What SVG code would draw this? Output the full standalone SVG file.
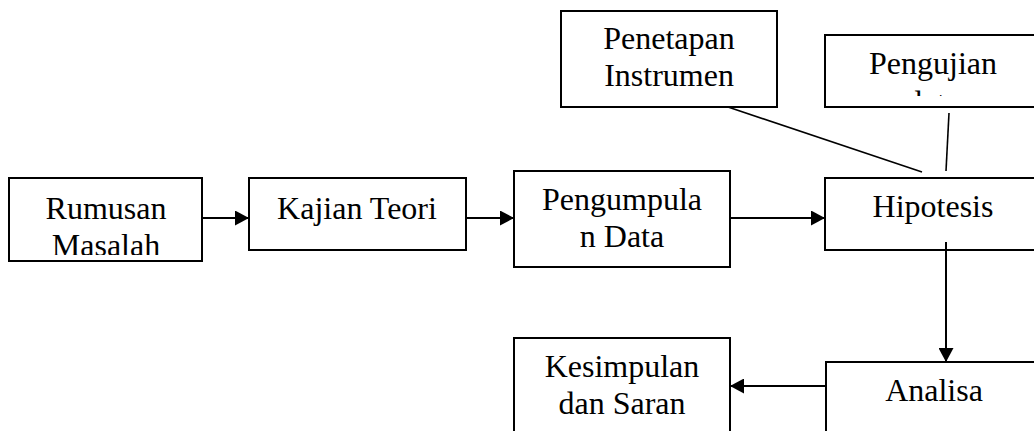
<svg xmlns="http://www.w3.org/2000/svg" width="1034" height="431" viewBox="0 0 1034 431">
<style>
.box{fill:#fff;stroke:#000;stroke-width:2}
.t{font-family:"Liberation Serif","Times New Roman",serif;font-size:32px;fill:#000;text-anchor:middle}
.c{fill:none;stroke:#000;stroke-width:2}
.d{fill:none;stroke:#000;stroke-width:1.6}
</style>
<defs>
<marker id="ah" markerWidth="14" markerHeight="15" refX="14" refY="7.5" orient="auto" markerUnits="userSpaceOnUse">
<path d="M0,0 L14,7.5 L0,15 Z" fill="#000"/>
</marker>
<clipPath id="clipR"><rect x="9" y="178" width="193" height="77"/></clipPath>
<clipPath id="clipP"><rect x="825" y="35" width="216" height="61"/></clipPath>
</defs>
<rect width="1034" height="431" fill="#fff"/>
<g id="rumusan">
<rect class="box" x="9" y="178" width="193" height="83"/>
<g clip-path="url(#clipR)"><text class="t" x="106" y="219">Rumusan</text><text class="t" x="106" y="256">Masalah</text></g>
</g>
<g id="kajian">
<rect class="box" x="249" y="178" width="217" height="72"/>
<text class="t" x="357" y="219">Kajian Teori</text>
</g>
<g id="pengumpulan">
<rect class="box" x="514" y="171" width="216" height="96"/>
<text class="t" x="622" y="210">Pengumpula</text>
<text class="t" x="622" y="247">n Data</text>
</g>
<g id="penetapan">
<rect class="box" x="561" y="11" width="216" height="96"/>
<text class="t" x="669" y="49">Penetapan</text>
<text class="t" x="669" y="86">Instrumen</text>
</g>
<g id="pengujian">
<rect class="box" x="825" y="35" width="216" height="72"/>
<g clip-path="url(#clipP)"><text class="t" x="933" y="74">Pengujian</text><text class="t" x="933" y="113">data</text></g>
</g>
<g id="hipotesis">
<rect class="box" x="825" y="178" width="216" height="72"/>
<text class="t" x="933" y="217">Hipotesis</text>
</g>
<g id="analisa">
<rect class="box" x="826" y="362" width="216" height="80"/>
<text class="t" x="934" y="401">Analisa</text>
</g>
<g id="kesimpulan">
<rect class="box" x="514" y="338" width="216" height="100"/>
<text class="t" x="622" y="377">Kesimpulan</text>
<text class="t" x="622" y="414">dan Saran</text>
</g>
<g id="connectors">
<line class="c" x1="202" y1="218" x2="249" y2="218" marker-end="url(#ah)"/>
<line class="c" x1="466" y1="218" x2="514" y2="218" marker-end="url(#ah)"/>
<line class="c" x1="730" y1="218" x2="825" y2="218" marker-end="url(#ah)"/>
<line class="c" x1="946" y1="242" x2="946" y2="362" marker-end="url(#ah)"/>
<line class="c" x1="826" y1="386" x2="730" y2="386" marker-end="url(#ah)"/>
<line class="d" x1="728" y1="107" x2="922" y2="172"/>
<line class="d" x1="949" y1="113" x2="946" y2="171"/>
</g>
</svg>
